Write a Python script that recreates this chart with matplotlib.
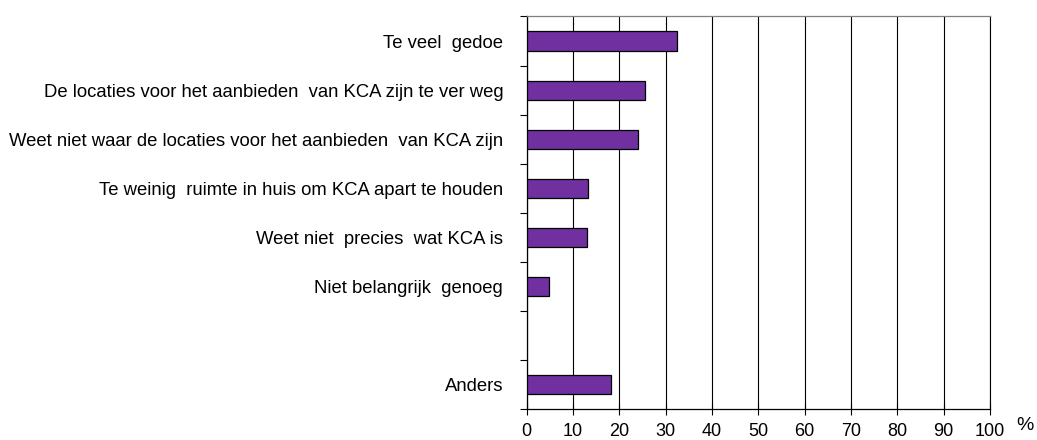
#!/usr/bin/env python3
"""Horizontal bar chart: redenen om KCA niet apart in te leveren."""

import matplotlib
matplotlib.use("Agg")
import matplotlib.pyplot as plt
import numpy as np

plt.rcParams["font.family"] = ["Liberation Sans", "DejaVu Sans"]

categories = [
    "Te veel  gedoe",
    "De locaties voor het aanbieden  van KCA zijn te ver weg",
    "Weet niet waar de locaties voor het aanbieden  van KCA zijn",
    "Te weinig  ruimte in huis om KCA apart te houden",
    "Weet niet  precies  wat KCA is",
    "Niet belangrijk  genoeg",
    "",
    "Anders",
]
values = [32.4, 25.5, 24.1, 13.2, 13.0, 4.8, np.nan, 18.1]
x_ticks = list(range(0, 101, 10))

fig = plt.figure(figsize=(10.37, 4.4), dpi=100)
ax = fig.add_axes([0.508, 0.0698, 0.4467, 0.8927])

y = np.arange(len(categories))
ax.barh(y, values, height=0.39, color="#7030a0", edgecolor="black", linewidth=0.9, zorder=3)

ax.set_xlim(0, 100)
ax.set_ylim(len(categories) - 0.5, -0.5)
ax.set_xticks(x_ticks)
ax.set_xticklabels([str(t) for t in x_ticks], fontsize=13)
ax.set_yticks(y)
ax.set_yticklabels(categories, fontsize=13.3)
ax.set_yticks(np.arange(-0.5, len(categories)), minor=True)

ax.tick_params(axis="y", which="major", length=0, pad=17)
ax.tick_params(axis="y", which="minor", length=5, width=0.8, direction="out")
ax.tick_params(axis="x", which="major", length=8, width=0.8, direction="inout", pad=6)

ax.grid(axis="x", color="black", linewidth=0.8, zorder=1)
for side in ("left", "bottom"):
    ax.spines[side].set_color("black")
    ax.spines[side].set_linewidth(0.9)
ax.spines["top"].set_color("#808080")
ax.spines["top"].set_linewidth(0.9)
ax.spines["right"].set_color("black")
ax.spines["right"].set_linewidth(0.8)

ax.text(1.056, -0.042, "%", transform=ax.transAxes, fontsize=14, ha="left", va="center")

fig.savefig("out.png", dpi=100)
